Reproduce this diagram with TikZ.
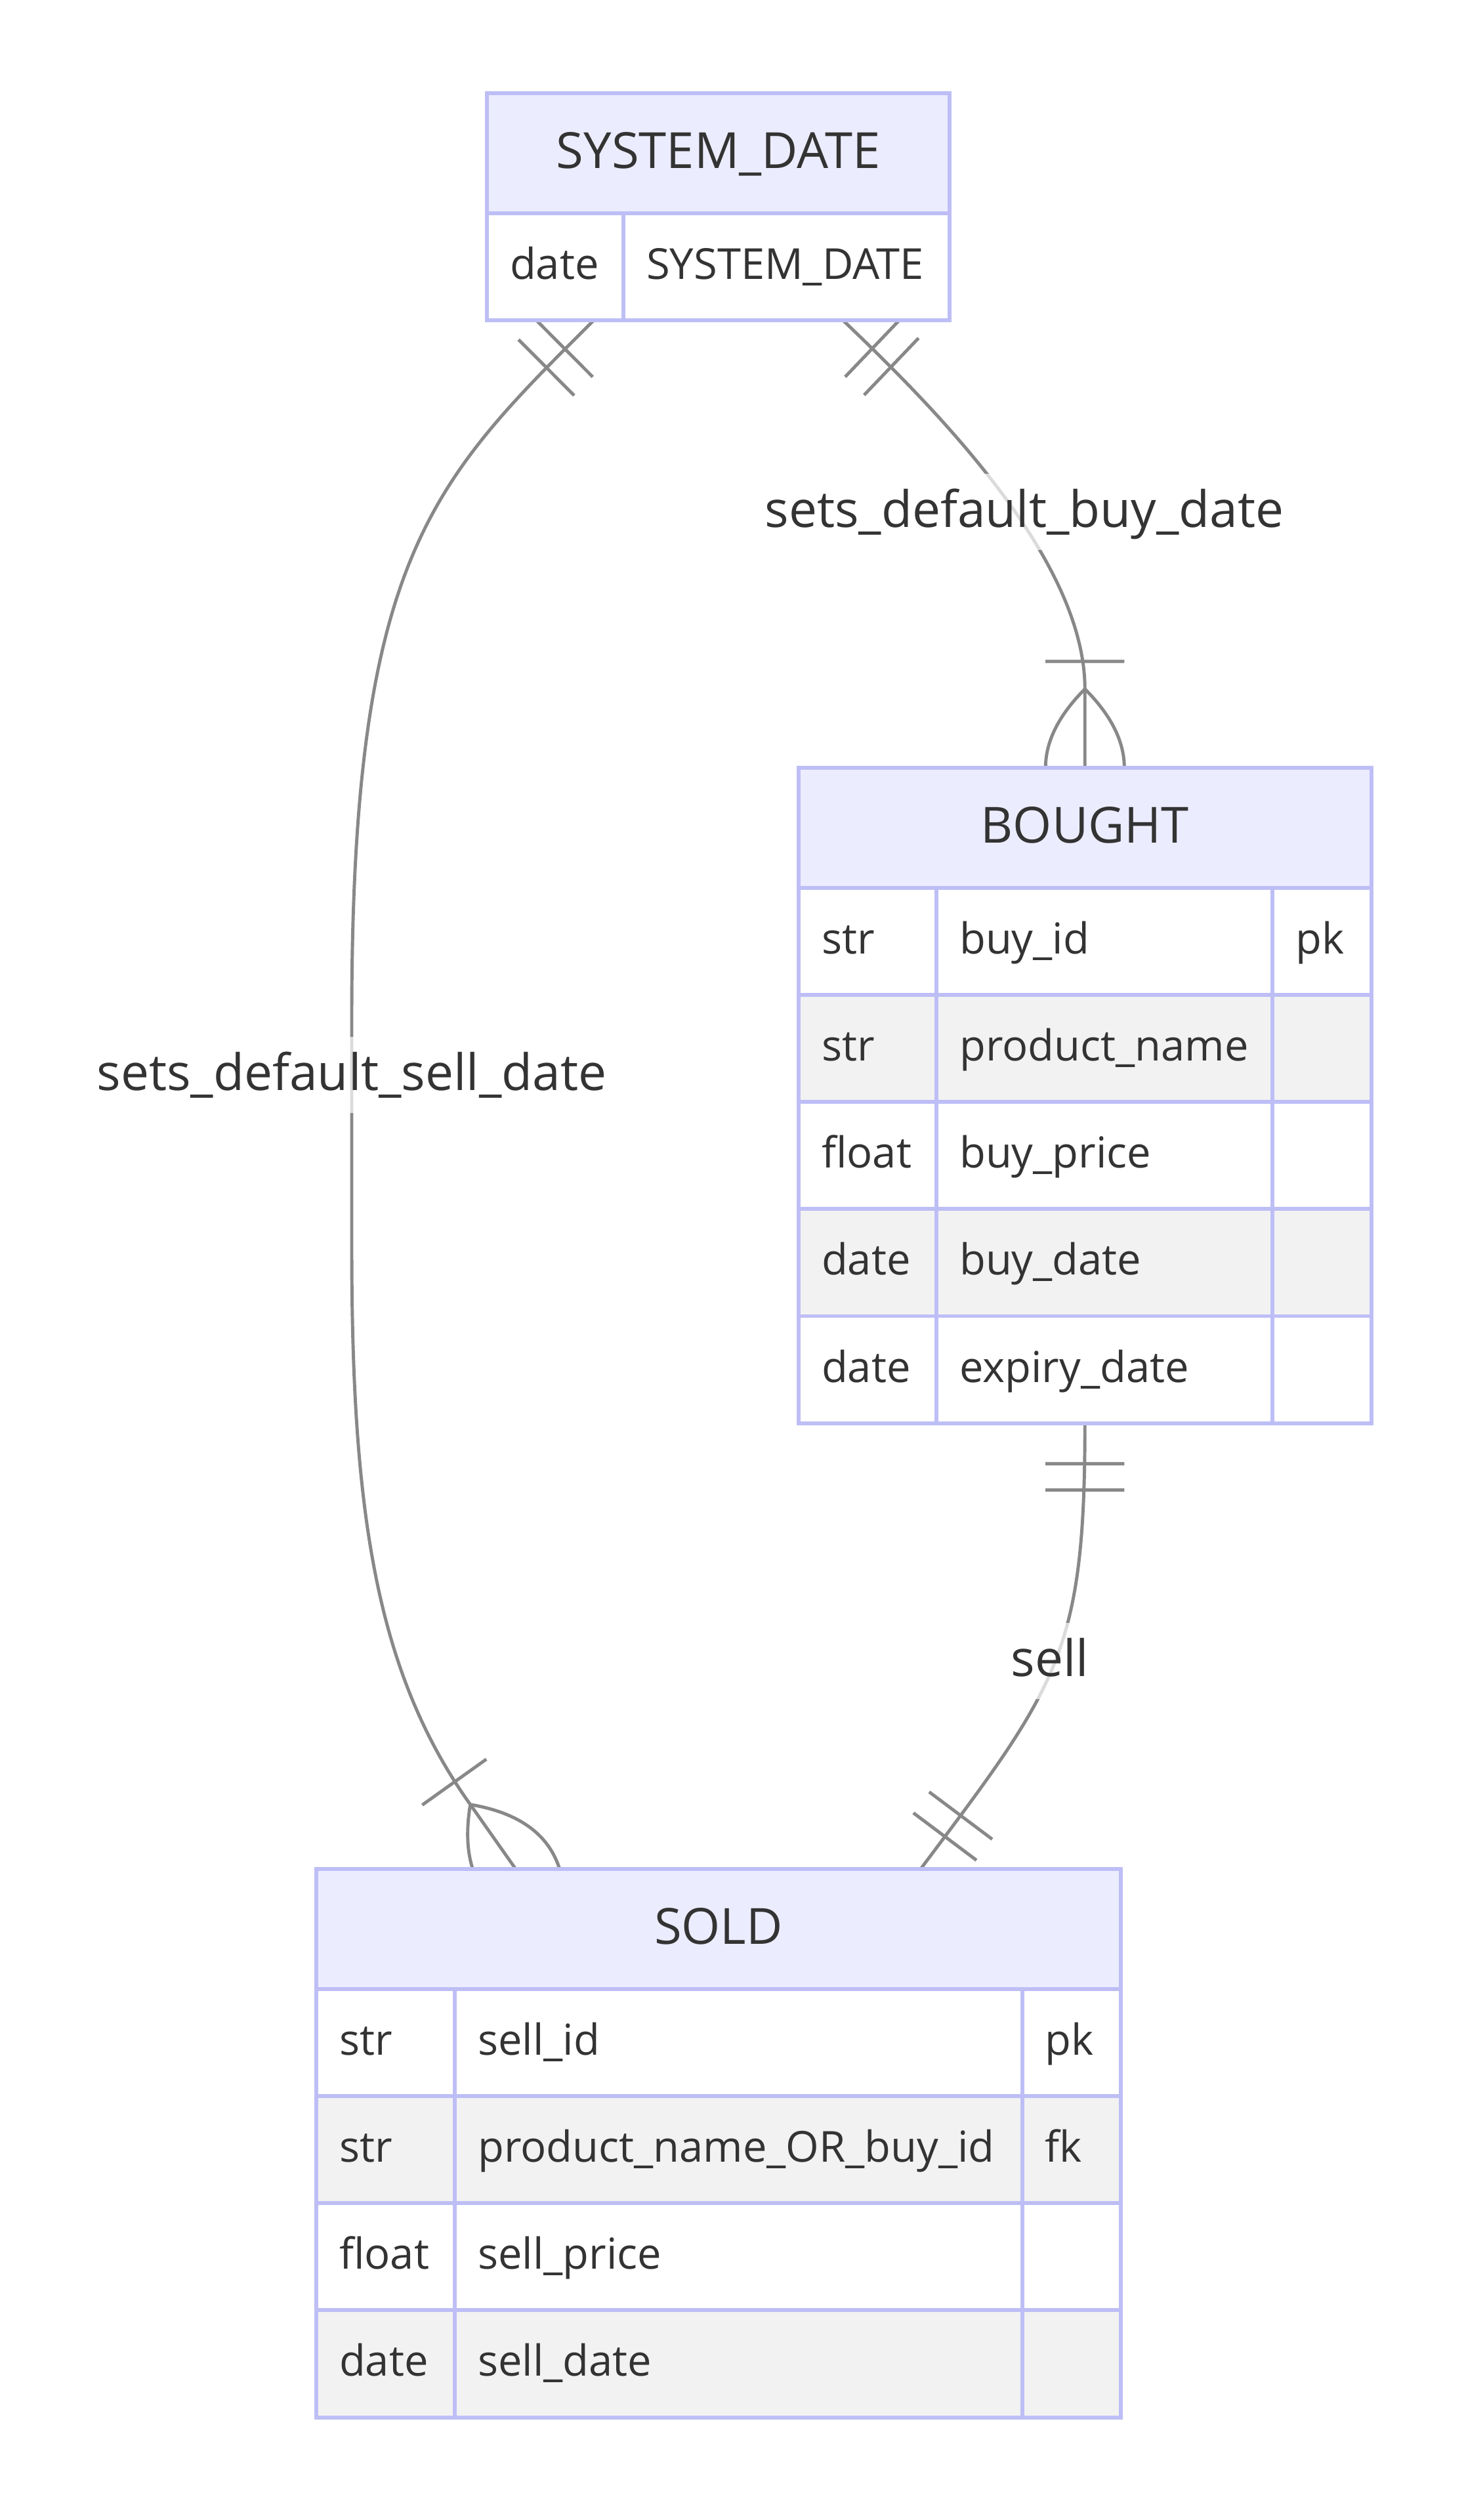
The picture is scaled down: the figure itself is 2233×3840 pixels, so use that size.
\documentclass[tikz,border=0pt]{standalone}
\usepackage{fontspec}
\setmainfont{Open Sans}
\usetikzlibrary{positioning, calc, decorations.markings}
\definecolor{erline}{RGB}{190,190,246}
\definecolor{erhead}{RGB}{236,236,255}
\definecolor{errow}{RGB}{242,242,242}
\definecolor{ertext}{RGB}{51,51,51}
\definecolor{erlink}{RGB}{136,136,136}
\pgfdeclarelayer{back}
\pgfsetlayers{back,main}

\begin{document}
\begin{tikzpicture}[x=0.01cm, y=-0.01cm]
    \tikzset{
      ent/.style={
        draw=erline, line width=1.7pt, fill=erhead,
        minimum height=1.83cm, inner sep=0pt, outer sep=0pt,
        text=ertext, font=\fontsize{21.6}{26}\selectfont,
        text height=13pt, text depth=0pt
      },
      cell/.style={
        draw=erline, line width=1.7pt,
        minimum height=1.63cm, inner xsep=0.35cm, inner ysep=0pt, outer sep=0pt,
        text width=#1, align=left,
        text=ertext, font=\fontsize{18.5}{22}\selectfont,
        text height=10.8pt, text depth=0pt
      },
      rowa/.style={fill=white},
      rowb/.style={fill=errow},
      lbl/.style={
        fill=white, fill opacity=0.7, text opacity=1, text=ertext,
        font=\fontsize{21.8}{26}\selectfont,
        inner xsep=2pt, inner ysep=0pt, text height=23.1pt, text depth=10pt
      },
      rel/.style={draw=erlink, line width=1.4pt},
      onestart/.style={postaction={decorate, decoration={markings,
        mark=at position 0.5pt with {\draw[rel] (0.6cm,-0.6cm) -- (0.6cm,0.6cm) (1cm,-0.6cm) -- (1cm,0.6cm);}}}},
      oneend/.style={postaction={decorate, decoration={markings,
        mark=at position -0.5pt with {\draw[rel] (-0.6cm,-0.6cm) -- (-0.6cm,0.6cm) (-1cm,-0.6cm) -- (-1cm,0.6cm);}}}},
      manyend/.style={postaction={decorate, decoration={markings,
        mark=at position -1.2cm with {\draw[rel] (-0.42cm,-0.6cm) -- (-0.42cm,0.6cm)
          (0,0) .. controls (0.8cm,0.8cm) and (1.6cm,0.8cm) .. (2.4cm,0)
          .. controls (1.6cm,-0.8cm) and (0.8cm,-0.8cm) .. (0,0);}}}}
    }

    \useasboundingbox (0,0) rectangle (2233,3840);

    % SYSTEM_DATE
    \node[ent, minimum width=7.05cm, anchor=north west] (sysdate) at (742,142) {SYSTEM\_DATE};
    \node[cell=1.38cm, rowa, below right=0pt and 0pt of sysdate.south west] (sd1t) {date};
    \node[cell=4.27cm, rowa, right=0pt of sd1t] (sd1n) {SYSTEM\_DATE};

    % BOUGHT
    \node[ent, minimum width=8.72cm, anchor=north west] (bought) at (1217,1170) {BOUGHT};
    \node[cell=1.40cm, rowa, below right=0pt and 0pt of bought.south west] (b1t) {str};
    \node[cell=4.42cm, rowa, right=0pt of b1t] (b1n) {buy\_id};
    \node[cell=0.80cm, rowa, right=0pt of b1n] (b1k) {pk};
    \node[cell=1.40cm, rowb, below right=0pt and 0pt of b1t.south west] (b2t) {str};
    \node[cell=4.42cm, rowb, right=0pt of b2t] (b2n) {product\_name};
    \node[cell=0.80cm, rowb, right=0pt of b2n] (b2k) {};
    \node[cell=1.40cm, rowa, below right=0pt and 0pt of b2t.south west] (b3t) {float};
    \node[cell=4.42cm, rowa, right=0pt of b3t] (b3n) {buy\_price};
    \node[cell=0.80cm, rowa, right=0pt of b3n] (b3k) {};
    \node[cell=1.40cm, rowb, below right=0pt and 0pt of b3t.south west] (b4t) {date};
    \node[cell=4.42cm, rowb, right=0pt of b4t] (b4n) {buy\_date};
    \node[cell=0.80cm, rowb, right=0pt of b4n] (b4k) {};
    \node[cell=1.40cm, rowa, below right=0pt and 0pt of b4t.south west] (b5t) {date};
    \node[cell=4.42cm, rowa, right=0pt of b5t] (b5n) {expiry\_date};
    \node[cell=0.80cm, rowa, right=0pt of b5n] (b5k) {};

    % SOLD
    \node[ent, minimum width=12.25cm, anchor=north west] (sold) at (482,2848) {SOLD};
    \node[cell=1.41cm, rowa, below right=0pt and 0pt of sold.south west] (s1t) {str};
    \node[cell=7.94cm, rowa, right=0pt of s1t] (s1n) {sell\_id};
    \node[cell=0.80cm, rowa, right=0pt of s1n] (s1k) {pk};
    \node[cell=1.41cm, rowb, below right=0pt and 0pt of s1t.south west] (s2t) {str};
    \node[cell=7.94cm, rowb, right=0pt of s2t] (s2n) {product\_name\_OR\_buy\_id};
    \node[cell=0.80cm, rowb, right=0pt of s2n] (s2k) {fk};
    \node[cell=1.41cm, rowa, below right=0pt and 0pt of s2t.south west] (s3t) {float};
    \node[cell=7.94cm, rowa, right=0pt of s3t] (s3n) {sell\_price};
    \node[cell=0.80cm, rowa, right=0pt of s3n] (s3k) {};
    \node[cell=1.41cm, rowb, below right=0pt and 0pt of s3t.south west] (s4t) {date};
    \node[cell=7.94cm, rowb, right=0pt of s4t] (s4n) {sell\_date};
    \node[cell=0.80cm, rowb, right=0pt of s4n] (s4k) {};

    % relationship labels
    \node[lbl] (buylbl) at (1561,780) {sets\_default\_buy\_date};
    \node[lbl] (selldatelbl) at (536,1638) {sets\_default\_sell\_date};
    \node[lbl] (selllbl) at (1600,2531) {sell};

    % attachment points
    \coordinate (sdB) at (sysdate.center |- sd1t.south);
    \coordinate (sdL) at ($(sdB)+(-190,0)$);
    \coordinate (sdR) at ($(sdB)+(190,0)$);
    \coordinate (boB) at (bought.center |- b5t.south);
    \coordinate (soL) at ($(sold.north)+(-309,0)$);
    \coordinate (soR) at ($(sold.north)+(308,0)$);

    \begin{pgfonlayer}{back}
      \fill[white] (0,0) rectangle (2233,3840);
      \draw[rel, onestart, manyend] (sdL) .. controls +(-248,247) and +(0,-700) .. ($(selldatelbl.center)+(0,-88)$)
        -- ($(selldatelbl.center)+(0,262)$) .. controls +(0,400) and +(-145,-203) .. ($(soL)+(-69,-98)$) -- (soL);
      \draw[rel, onestart, manyend] (sdR) .. controls +(136,130) and +(0,-200) .. ($(bought.north)+(0,-120)$) -- (bought.north);
      \draw[rel, onestart, oneend] (boB) .. controls +(0,350) and +(210,-280) .. (soR);
    \end{pgfonlayer}
\end{tikzpicture}
\end{document}
